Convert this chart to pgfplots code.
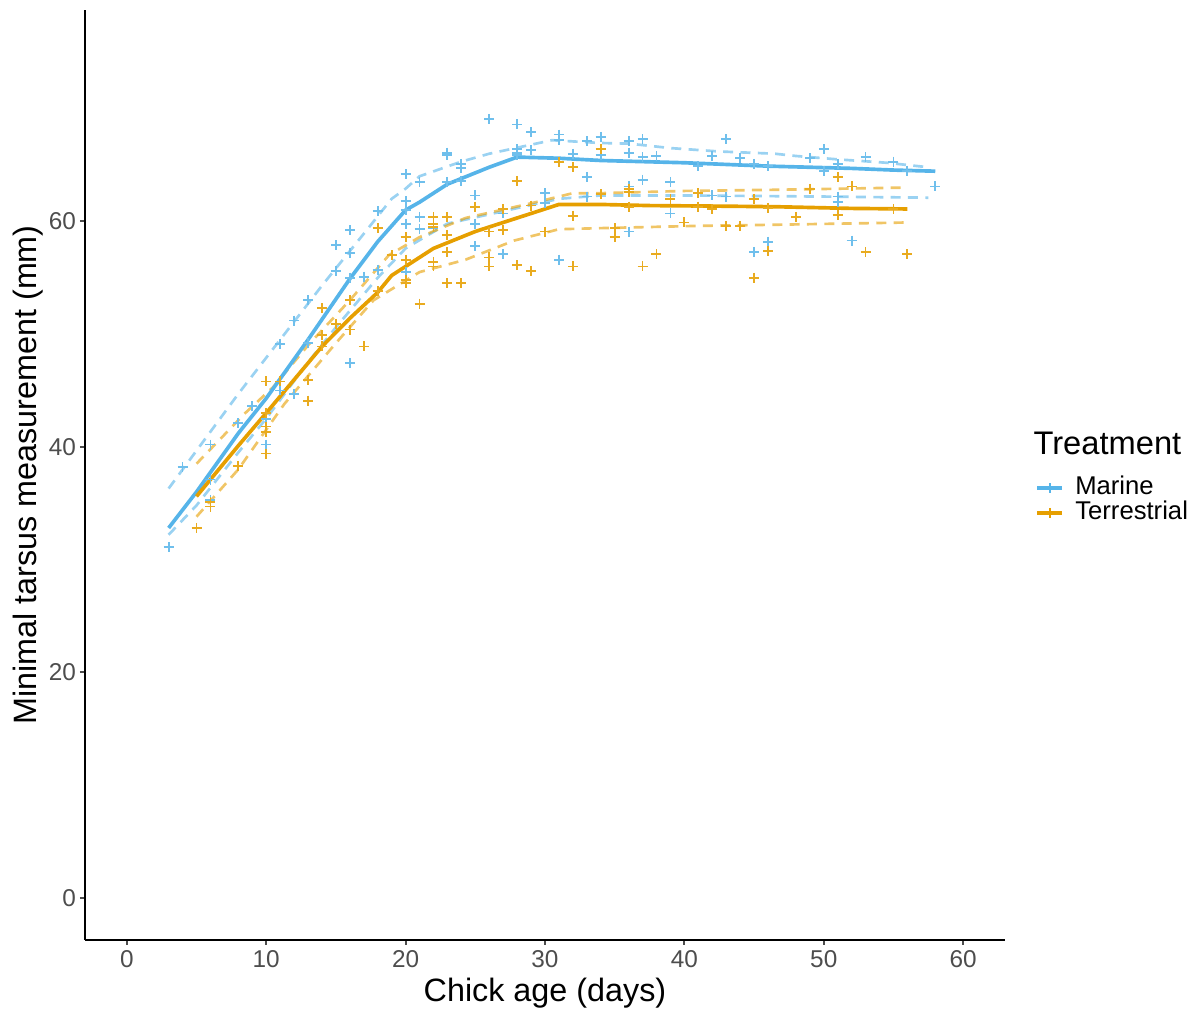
\documentclass[border=0pt]{standalone}
\usepackage{fontspec}
\setmainfont{Liberation Sans}
\usepackage{pgfplots}
\usepackage{pgfplotstable}
\pgfplotsset{compat=1.18}
\definecolor{marine}{HTML}{56B4E9}
\definecolor{terr}{HTML}{E69F00}
\definecolor{tickgrey}{HTML}{4D4D4D}

% raw measurements, read off per chick age
\pgfplotstableread{
age tarsus
3 31.1
4 38.2
6 40.2
6 37.1
6 35.3
8 42.1
9 43.6
10 42.5
10 40.2
11 49.1
11 45.0
12 51.2
12 44.7
13 53.0
13 49.2
15 57.9
15 55.6
16 59.2
16 57.2
16 55.0
16 47.4
17 55.1
18 60.9
18 55.7
20 61.8
20 59.8
20 58.6
20 55.5
20 64.2
20 61.0
21 59.3
21 63.5
21 60.4
22 59.4
23 66.1
23 65.9
23 63.5
24 65.1
24 64.7
24 63.6
25 62.3
25 59.8
25 57.8
26 69.1
27 60.7
27 57.1
28 68.6
28 66.4
28 66.1
28 65.9
29 67.9
29 66.3
30 62.5
30 61.6
31 67.7
31 67.2
31 56.6
32 66.0
33 67.1
33 63.9
33 62.2
34 67.5
34 65.9
34 62.4
36 67.1
36 66.1
36 63.1
36 59.1
37 67.3
37 65.7
37 63.7
38 65.8
39 63.5
39 60.7
41 64.9
42 65.8
42 62.3
43 67.3
43 62.2
44 65.6
45 65.1
45 57.3
46 64.9
46 58.2
49 65.6
50 66.4
50 64.5
51 65.1
51 62.2
51 61.7
52 58.3
53 65.7
55 65.3
56 64.5
58 63.1
}\marinepts

\pgfplotstableread{
age tarsus
5 32.8
6 35.1
6 34.7
8 38.3
10 39.4
10 41.3
10 41.8
10 43.0
10 45.8
11 45.8
13 45.9
13 44.1
14 52.3
14 49.9
14 48.9
15 50.9
16 53.0
16 50.4
17 48.9
18 59.4
18 53.8
19 57.0
20 56.6
20 54.8
20 54.5
20 58.6
21 52.7
22 60.4
22 59.8
22 59.5
22 56.4
22 56.0
23 60.4
23 58.8
23 57.3
23 54.5
24 54.5
25 61.3
26 59.1
26 56.8
26 56.0
27 61.1
27 59.2
28 63.6
28 56.1
29 61.4
29 55.6
30 59.1
31 65.3
32 64.8
32 60.5
32 56.0
34 66.4
34 62.4
35 59.4
35 58.6
36 62.9
36 62.6
36 61.3
37 56.0
38 57.1
39 62.0
40 59.9
41 62.5
41 61.3
42 61.1
43 59.6
44 59.6
45 62.0
45 55.0
46 61.2
46 57.4
48 60.4
49 62.9
51 63.9
51 60.6
52 63.1
53 57.3
55 61.1
56 57.1
}\terrpts

% fitted curves and their bands
\pgfplotstableread{
age fit
3 32.8
5 36.0
8 41.2
10 44.3
13 49.5
16 54.9
18 58.2
20 61.0
21 61.7
23 63.3
24 63.8
26 64.8
28 65.7
31 65.6
34 65.4
37 65.3
40 65.2
43 65.05
46 64.9
49 64.8
52 64.7
55 64.55
58 64.45
}\marinefit

\pgfplotstableread{
age fit
3 36.3
8 44.7
11 49.5
14 54.3
17 58.9
19 62.0
20 62.9
21 64.0
24 65.3
26 66.0
29 66.8
30.5 67.2
34 66.95
36 66.9
39 66.5
42.5 66.2
46.5 66.0
48 65.8
51 65.5
54.5 65.2
57.5 64.8
}\marinehi

\pgfplotstableread{
age fit
3 32.2
5 34.8
8 39.5
10 42.5
13 47.5
15 50.6
18 55.0
20 57.6
23 59.8
27 60.9
31 62.0
34 62.3
40 62.3
50 62.2
57.5 62.1
}\marinelo

\pgfplotstableread{
age fit
5 35.6
8 40.1
10 43.0
14 48.9
16 51.4
18 53.7
19 55.2
20 56.0
22 57.6
25 59.1
27 59.9
31 61.5
34 61.5
37.5 61.4
42.5 61.35
46.5 61.3
52 61.15
56 61.1
}\terrfit

\pgfplotstableread{
age fit
5 38.5
8.5 43.0
10.5 45.3
13 49.0
16 53.0
18.8 57.0
21 58.6
24.3 60.3
29 61.6
32 62.5
34 62.5
40 62.7
46.5 62.8
56 63.0
}\terrhi

\pgfplotstableread{
age fit
5 33.8
8 38.0
11.3 43.8
15 49.2
17.7 53.0
21 55.5
24.3 56.6
27.8 58.3
31 59.3
34 59.4
41 59.6
46.5 59.7
56 59.9
}\terrlo

\begin{document}
\begin{tikzpicture}
\begin{axis}[
  name=ax,
  scale only axis, width=276pt, height=279pt,
  xmin=-3, xmax=63, ymin=-3.75, ymax=78.75,
  axis lines*=left, clip=false,
  axis line style={black, line width=0.6pt},
  xtick={0,10,...,60}, ytick={0,20,40,60},
  tick align=outside, major tick length=1.5pt,
  tick style={tickgrey, line width=0.6pt},
  ticklabel style={font=\fontsize{7.3}{8}\selectfont, text=tickgrey},
  xticklabel style={inner sep=1pt, yshift=-0.5pt},
  yticklabel style={inner sep=1pt},
  /pgf/number format/assume math mode=true,
  xlabel={Chick age (days)}, ylabel={Minimal tarsus measurement (mm)},
  every axis x label/.style={at={(axis description cs:0.5,-0.04)}, anchor=north, inner sep=0pt, font=\fontsize{9.7}{11}\selectfont},
  every axis y label/.style={at={(axis description cs:-0.0446,0.5)}, rotate=90, anchor=south, inner sep=0pt, font=\fontsize{9.7}{11}\selectfont},
  legend style={at={(axis description cs:1.0326,0.4726)}, anchor=west, draw=none, fill=none,
    font=\fontsize{7.7}{8}\selectfont, inner sep=0pt, row sep=-0.6pt, nodes={inner sep=0.5pt},
    /tikz/every odd column/.append style={column sep=2.8pt}},
  legend cell align=left,
  legend image code/.code={\draw[mark repeat=2,mark phase=2,#1] plot coordinates {(0pt,0pt)(3.75pt,0pt)(7.5pt,0pt)};},
]
\addlegendimage{marine, line width=1.1pt, mark=+, mark options={line width=0.5pt}, mark size=1.5pt}
\addlegendentry{Marine}
\addlegendimage{terr, line width=1.1pt, mark=+, mark options={line width=0.5pt}, mark size=1.5pt}
\addlegendentry{Terrestrial}

\addplot[forget plot, only marks, mark=+, mark size=1.5pt, line width=0.55pt, marine!85!white] table {\marinepts};
\addplot[forget plot, only marks, mark=+, mark size=1.5pt, line width=0.55pt, terr!88!white] table {\terrpts};

\addplot[forget plot, no marks, marine, opacity=0.6, line width=0.8pt, dash pattern=on 3pt off 2.2pt] table {\marinehi};
\addplot[forget plot, no marks, marine, opacity=0.6, line width=0.8pt, dash pattern=on 3pt off 2.2pt] table {\marinelo};
\addplot[forget plot, no marks, terr, opacity=0.6, line width=0.8pt, dash pattern=on 3pt off 2.2pt] table {\terrhi};
\addplot[forget plot, no marks, terr, opacity=0.6, line width=0.8pt, dash pattern=on 3pt off 2.2pt] table {\terrlo};

\addplot[forget plot, no marks, marine, line width=1.1pt] table {\marinefit};
\addplot[forget plot, no marks, terr, line width=1.1pt] table {\terrfit};

\node[anchor=west, inner sep=0pt, font=\fontsize{9.8}{11}\selectfont] at (axis description cs:1.0304,0.5344) {Treatment};
\end{axis}
\pgfresetboundingbox
\useasboundingbox (ax.south west) ++(-25.5pt,-21pt) rectangle ++(360pt,303pt);
\end{tikzpicture}
\end{document}
